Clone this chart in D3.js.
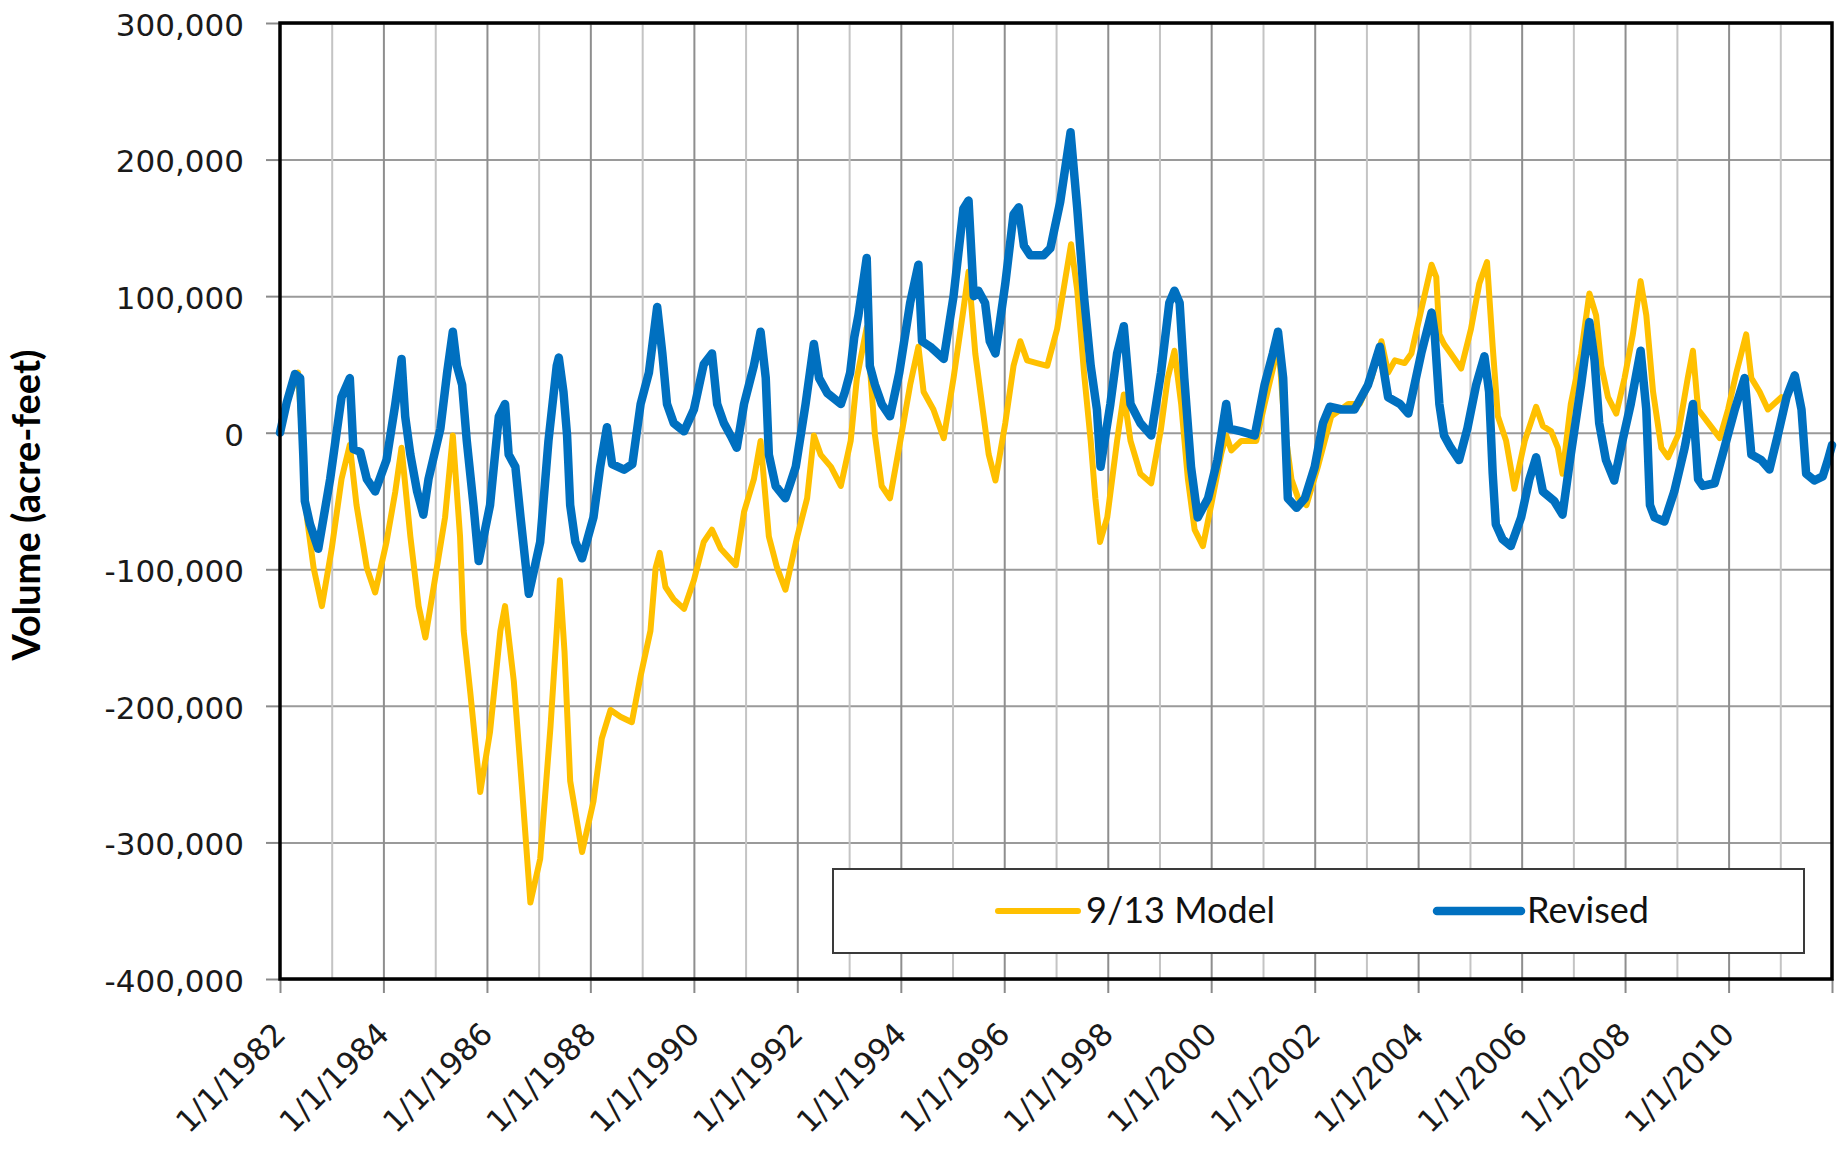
<!DOCTYPE html>
<html>
<head>
<meta charset="utf-8">
<script src="https://cdn.jsdelivr.net/npm/d3@7"></script>
<style>
  html, body { margin: 0; padding: 0; background: #fff; }
  svg { display: block; }
</style>
</head>
<body>
<div id="chart"></div>
<script>
// Cumulative volume (acre-feet).
// Dates are decimal years; values in acre-feet.
const modelDates = [
  1982.00, 1982.13, 1982.35, 1982.45, 1982.52, 1982.65, 1982.81, 1983.00, 1983.19, 1983.35,
  1983.48, 1983.68, 1983.84, 1984.06, 1984.23, 1984.35, 1984.52, 1984.68, 1984.81, 1985.03,
  1985.19, 1985.34, 1985.48, 1985.55, 1985.68, 1985.87, 1986.06, 1986.26, 1986.35, 1986.52,
  1986.68, 1986.84, 1987.03, 1987.23, 1987.35, 1987.41, 1987.50, 1987.61, 1987.84, 1988.06,
  1988.22, 1988.39, 1988.58, 1988.80, 1988.97, 1989.16, 1989.26, 1989.34, 1989.45, 1989.61,
  1989.81, 1990.00, 1990.19, 1990.35, 1990.52, 1990.81, 1990.97, 1991.16, 1991.29, 1991.45,
  1991.61, 1991.77, 1992.00, 1992.19, 1992.32, 1992.45, 1992.65, 1992.84, 1993.03, 1993.15,
  1993.34, 1993.41, 1993.50, 1993.63, 1993.79, 1993.99, 1994.18, 1994.34, 1994.44, 1994.63,
  1994.83, 1995.02, 1995.21, 1995.31, 1995.44, 1995.57, 1995.70, 1995.83, 1996.02, 1996.18,
  1996.31, 1996.44, 1996.63, 1996.83, 1997.02, 1997.18, 1997.29, 1997.41, 1997.54, 1997.67,
  1997.76, 1997.85, 1997.99, 1998.18, 1998.31, 1998.44, 1998.63, 1998.84, 1999.03, 1999.16,
  1999.29, 1999.42, 1999.55, 1999.68, 1999.84, 2000.00, 2000.19, 2000.29, 2000.39, 2000.58,
  2000.87, 2001.03, 2001.23, 2001.29, 2001.42, 2001.55, 2001.68, 2001.84, 2002.06, 2002.32,
  2002.65, 2002.87, 2003.10, 2003.29, 2003.42, 2003.55, 2003.74, 2003.87, 2004.06, 2004.26,
  2004.35, 2004.41, 2004.50, 2004.63, 2004.83, 2005.02, 2005.18, 2005.33, 2005.44, 2005.54,
  2005.70, 2005.86, 2006.06, 2006.28, 2006.41, 2006.57, 2006.70, 2006.79, 2006.95, 2007.15,
  2007.31, 2007.44, 2007.54, 2007.67, 2007.83, 2007.99, 2008.15, 2008.30, 2008.41, 2008.54,
  2008.70, 2008.83, 2009.02, 2009.21, 2009.31, 2009.41, 2009.61, 2009.83, 2009.99, 2010.15,
  2010.34, 2010.44, 2010.60, 2010.76, 2011.02
];
const modelValues = [
  0, 22000, 44000, -16000, -62000, -99000, -127000, -85000, -34000, -9000,
  -53000, -99000, -117000, -80000, -43000, -11000, -76000, -127000, -150000, -99000,
  -62000, -2000, -76000, -145000, -191000, -263000, -219000, -145000, -127000, -182000,
  -261000, -344000, -312000, -215000, -145000, -108000, -160000, -255000, -307000, -270000,
  -224000, -203000, -208000, -212000, -178000, -145000, -99000, -88000, -113000, -122000,
  -129000, -108000, -80000, -71000, -85000, -97000, -58000, -34000, -6000, -76000,
  -99000, -115000, -76000, -48000, -2000, -16000, -25000, -39000, -6000, 40000,
  77000, 44000, -2000, -39000, -48000, -6000, 35000, 63000, 30000, 17000,
  -4000, 40000, 90000, 118000, 58000, 21000, -16000, -35000, 7000, 49000,
  67000, 53000, 51000, 49000, 76000, 113000, 138000, 104000, 44000, -6000,
  -48000, -80000, -62000, -6000, 28000, -6000, -30000, -37000, 3000, 40000,
  60000, 21000, -34000, -71000, -83000, -53000, -16000, -2000, -13000, -6000,
  -6000, 21000, 53000, 70000, 3000, -34000, -48000, -53000, -25000, 12000,
  21000, 21000, 40000, 67000, 44000, 53000, 51000, 58000, 90000, 123000,
  114000, 72000, 65000, 58000, 47000, 76000, 109000, 125000, 63000, 12000,
  -6000, -41000, -6000, 19000, 5000, 1000, -11000, -30000, 21000, 58000,
  102000, 86000, 49000, 26000, 14000, 40000, 72000, 111000, 86000, 30000,
  -11000, -18000, -2000, 40000, 60000, 17000, 7000, -4000, 17000, 44000,
  72000, 40000, 30000, 17000, 26000
];

const revisedDates = [
  1982.00, 1982.13, 1982.29, 1982.39, 1982.45, 1982.48, 1982.58, 1982.74, 1982.97, 1983.19,
  1983.35, 1983.42, 1983.55, 1983.68, 1983.84, 1984.06, 1984.23, 1984.35, 1984.42, 1984.52,
  1984.65, 1984.77, 1984.87, 1985.10, 1985.23, 1985.34, 1985.42, 1985.52, 1985.61, 1985.74,
  1985.84, 1986.06, 1986.23, 1986.35, 1986.42, 1986.55, 1986.65, 1986.81, 1987.03, 1987.19,
  1987.35, 1987.39, 1987.48, 1987.55, 1987.61, 1987.71, 1987.84, 1988.06, 1988.19, 1988.32,
  1988.42, 1988.65, 1988.81, 1988.97, 1989.13, 1989.29, 1989.39, 1989.48, 1989.61, 1989.81,
  1990.00, 1990.19, 1990.35, 1990.45, 1990.58, 1990.71, 1990.83, 1990.97, 1991.16, 1991.29,
  1991.39, 1991.45, 1991.58, 1991.77, 1991.97, 1992.16, 1992.32, 1992.42, 1992.58, 1992.84,
  1992.92, 1993.02, 1993.10, 1993.18, 1993.34, 1993.40, 1993.50, 1993.63, 1993.79, 1993.97,
  1994.18, 1994.34, 1994.41, 1994.57, 1994.83, 1995.02, 1995.21, 1995.31, 1995.41, 1995.50,
  1995.63, 1995.72, 1995.83, 1996.02, 1996.18, 1996.28, 1996.38, 1996.50, 1996.76, 1996.89,
  1997.08, 1997.28, 1997.41, 1997.54, 1997.67, 1997.79, 1997.86, 1998.05, 1998.18, 1998.31,
  1998.44, 1998.63, 1998.84, 1999.03, 1999.19, 1999.29, 1999.39, 1999.48, 1999.61, 1999.74,
  1999.94, 2000.12, 2000.29, 2000.35, 2000.58, 2000.84, 2001.03, 2001.19, 2001.29, 2001.39,
  2001.48, 2001.65, 2001.81, 2002.00, 2002.16, 2002.29, 2002.52, 2002.77, 2003.03, 2003.26,
  2003.42, 2003.65, 2003.81, 2004.06, 2004.26, 2004.32, 2004.41, 2004.50, 2004.63, 2004.79,
  2004.95, 2005.12, 2005.28, 2005.37, 2005.44, 2005.50, 2005.63, 2005.79, 2005.99, 2006.15,
  2006.28, 2006.41, 2006.63, 2006.79, 2006.95, 2007.15, 2007.31, 2007.41, 2007.50, 2007.63,
  2007.79, 2007.95, 2008.11, 2008.30, 2008.41, 2008.48, 2008.57, 2008.76, 2008.95, 2009.15,
  2009.31, 2009.41, 2009.50, 2009.73, 2009.92, 2010.12, 2010.31, 2010.44, 2010.63, 2010.79,
  2010.95, 2011.12, 2011.28, 2011.41, 2011.50, 2011.66, 2011.82, 2011.92, 2012.00
];
const revisedValues = [
  0, 22000, 43000, 40000, -16000, -50000, -67000, -85000, -34000, 26000,
  40000, -12000, -14000, -34000, -43000, -20000, 21000, 54000, 12000, -16000,
  -43000, -60000, -34000, 3000, 44000, 74000, 49000, 35000, -6000, -53000,
  -94000, -53000, 12000, 21000, -16000, -25000, -62000, -118000, -80000, -6000,
  49000, 55000, 30000, -2000, -53000, -80000, -92000, -62000, -25000, 4000,
  -23000, -27000, -23000, 21000, 44000, 92000, 58000, 21000, 7000, 1000,
  17000, 50000, 58000, 21000, 7000, -2000, -11000, 21000, 49000, 74000,
  40000, -16000, -39000, -48000, -25000, 21000, 65000, 40000, 29000, 21000,
  30000, 44000, 70000, 86000, 128000, 49000, 35000, 21000, 12000, 44000,
  95000, 123000, 67000, 63000, 54000, 100000, 164000, 170000, 100000, 104000,
  95000, 67000, 58000, 109000, 160000, 165000, 137000, 130000, 130000, 135000,
  169000, 220000, 164000, 100000, 49000, 17000, -25000, 21000, 58000, 78000,
  21000, 7000, -2000, 44000, 95000, 104000, 95000, 40000, -25000, -62000,
  -48000, -20000, 21000, 3000, 1000, -2000, 35000, 58000, 74000, 40000,
  -48000, -55000, -48000, -25000, 7000, 19000, 17000, 17000, 35000, 63000,
  26000, 21000, 14000, 58000, 88000, 72000, 21000, -2000, -11000, -20000,
  3000, 35000, 56000, 30000, -30000, -67000, -78000, -83000, -62000, -34000,
  -18000, -43000, -50000, -60000, -16000, 35000, 81000, 53000, 7000, -20000,
  -35000, -6000, 21000, 60000, 17000, -53000, -62000, -65000, -43000, -11000,
  21000, -34000, -39000, -37000, -11000, 17000, 40000, -16000, -20000, -27000,
  -2000, 26000, 42000, 17000, -30000, -35000, -32000, -20000, -9000
];

const seriesNames = ['9/13 Model', 'Revised'];
const yTickValues = [-400000, -300000, -200000, -100000, 0, 100000, 200000, 300000];
const labelYears = [1982, 1984, 1986, 1988, 1990, 1992, 1994, 1996, 1998, 2000, 2002, 2004, 2006, 2008, 2010];

// ---- layout ----
const W = 1845, H = 1154;
const margin = { top: 23, right: 13, bottom: 175, left: 280 };
const width = W - margin.left - margin.right;
const height = H - margin.top - margin.bottom;

// decimal year -> Date
function toDate(t) {
  const yr = Math.floor(t);
  const start = new Date(yr, 0, 1).getTime();
  const end = new Date(yr + 1, 0, 1).getTime();
  return new Date(start + (t - yr) * (end - start));
}

// Excel-style thousands with a plain hyphen for negatives
const fmt = d3.formatLocale({ decimal: '.', thousands: ',', grouping: [3], currency: ['$', ''], minus: '-' }).format(',');

const svg = d3.select('#chart')
  .append('svg')
  .attr('width', W)
  .attr('height', H);

const g = svg.append('g')
  .attr('transform', `translate(${margin.left},${margin.top})`);

const x = d3.scaleTime()
  .domain([new Date(1982, 0, 1), new Date(2012, 0, 1)])
  .range([0, width]);

const y = d3.scaleLinear()
  .domain([-400000, 300000])
  .range([height, 0]);

// ---- gridlines ----
const allYears = d3.range(1983, 2012).map(yr => new Date(yr, 0, 1));

g.append('g')
  .attr('class', 'grid-y')
  .call(d3.axisLeft(y).tickValues(yTickValues).tickSize(-width).tickFormat(''))
  .call(s => s.select('.domain').remove())
  .selectAll('line')
  .attr('stroke', '#9a9a9a')
  .attr('stroke-width', 2);

g.append('g')
  .attr('class', 'grid-x')
  .attr('transform', `translate(0,${height})`)
  .call(d3.axisBottom(x).tickValues(allYears).tickSize(-height).tickFormat(''))
  .call(s => s.select('.domain').remove())
  .selectAll('line')
  .attr('stroke', d => d.getFullYear() % 2 === 0 ? '#8e8e8e' : '#c4c4c4')
  .attr('stroke-width', 2);

// ---- axes ----
const yAxis = g.append('g')
  .call(d3.axisLeft(y)
    .tickValues(yTickValues)
    .tickSize(14)
    .tickPadding(22)
    .tickFormat(fmt));
yAxis.select('.domain').remove();
yAxis.selectAll('line').attr('stroke', '#8a8a8a').attr('stroke-width', 2);
yAxis.selectAll('text')
  .style('font-family', '"DejaVu Sans", Verdana, sans-serif')
  .style('font-size', '31px')
  .attr('fill', '#1a1a1a')
  .attr('dy', '0.4em');

const evenYears = d3.range(1982, 2013, 2).map(yr => new Date(yr, 0, 1));
const xAxis = g.append('g')
  .attr('transform', `translate(0,${height})`)
  .call(d3.axisBottom(x)
    .tickValues(evenYears)
    .tickSize(14)
    .tickFormat(d => labelYears.includes(d.getFullYear()) ? `1/1/${d.getFullYear()}` : ''));
xAxis.select('.domain').remove();
xAxis.selectAll('line').attr('stroke', '#8a8a8a').attr('stroke-width', 2);
xAxis.selectAll('text')
  .style('font-family', '"DejaVu Sans", Verdana, sans-serif')
  .style('font-size', '31px')
  .attr('fill', '#1a1a1a')
  .attr('y', 0)
  .attr('dy', 0)
  .attr('text-anchor', 'end')
  .attr('transform', 'translate(7,57) rotate(-45)');

// ---- series ----
const modelData = modelDates.map((t, i) => ({ date: toDate(t), value: modelValues[i] }));
const revisedData = revisedDates.map((t, i) => ({ date: toDate(t), value: revisedValues[i] }));

const line = d3.line()
  .x(d => x(d.date))
  .y(d => y(d.value));

g.append('path')
  .datum(modelData)
  .attr('fill', 'none')
  .attr('stroke', '#FFC000')
  .attr('stroke-width', 6)
  .attr('stroke-linejoin', 'round')
  .attr('stroke-linecap', 'round')
  .attr('d', line);

g.append('path')
  .datum(revisedData)
  .attr('fill', 'none')
  .attr('stroke', '#0070C0')
  .attr('stroke-width', 8.5)
  .attr('stroke-linejoin', 'round')
  .attr('stroke-linecap', 'round')
  .attr('d', line);

// ---- plot frame ----
g.append('rect')
  .attr('x', 0)
  .attr('y', 0)
  .attr('width', width)
  .attr('height', height)
  .attr('fill', 'none')
  .attr('stroke', '#000')
  .attr('stroke-width', 3.5);

// ---- y axis title ----
svg.append('text')
  .attr('transform', 'translate(40,505) rotate(-90)')
  .attr('text-anchor', 'middle')
  .style('font-family', 'Lato, "Open Sans", sans-serif')
  .style('font-weight', 'bold')
  .style('font-size', '38px')
  .attr('fill', '#000')
  .text('Volume (acre-feet)');

// ---- legend ----
const legend = svg.append('g')
  .attr('class', 'legend')
  .attr('transform', 'translate(833,869)');

legend.append('rect')
  .attr('width', 971)
  .attr('height', 84)
  .attr('fill', '#fff')
  .attr('stroke', '#3a3a3a')
  .attr('stroke-width', 2);

const legendItems = [
  { name: seriesNames[0], color: '#FFC000', sw: 6, x0: 165, x1: 245, tx: 253 },
  { name: seriesNames[1], color: '#0070C0', sw: 8.5, x0: 604, x1: 688, tx: 694 }
];

legendItems.forEach(item => {
  legend.append('line')
    .attr('x1', item.x0)
    .attr('x2', item.x1)
    .attr('y1', 42)
    .attr('y2', 42)
    .attr('stroke', item.color)
    .attr('stroke-width', item.sw)
    .attr('stroke-linecap', 'round');

  legend.append('text')
    .attr('x', item.tx)
    .attr('y', 54)
    .style('font-family', 'Lato, "Open Sans", sans-serif')
    .style('font-size', '36px')
    .attr('fill', '#111')
    .text(item.name);
});
</script>
</body>
</html>
